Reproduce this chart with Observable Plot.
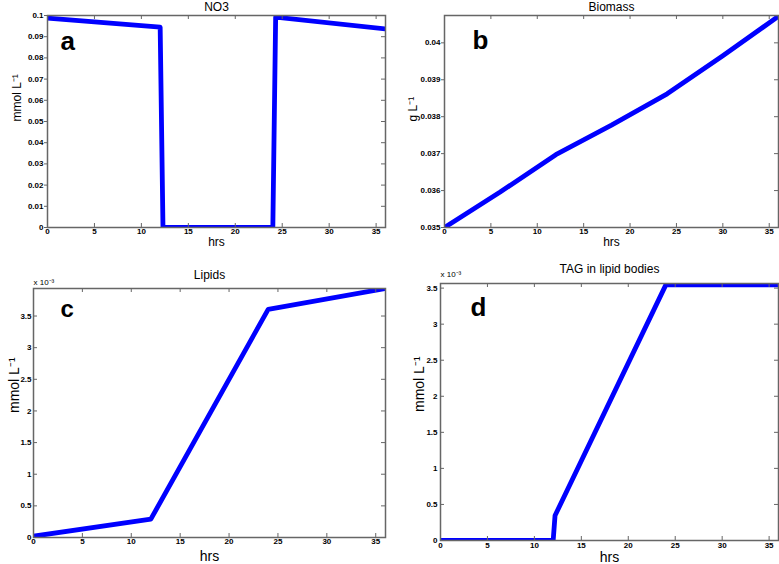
<!DOCTYPE html>
<html>
<head>
<meta charset="utf-8">
<script src="https://cdn.jsdelivr.net/npm/d3@7"></script>
<script src="https://cdn.jsdelivr.net/npm/@observablehq/plot@0.6"></script>
<style>
  html, body { margin: 0; padding: 0; background: white; }
  #root { position: relative; width: 779px; height: 564px; overflow: hidden; background: white; }
  #root > div { position: absolute; }
  svg { overflow: visible; }
</style>
</head>
<body>
<div id="root"></div>
<script>
// ---- data ----
const xTicks = [0, 5, 10, 15, 20, 25, 30, 35];

const no3Hours = [0, 12, 12.3, 24, 24.3, 36];
const no3Values = [0.0988, 0.0945, 0, 0, 0.0992, 0.0937];
const no3Ticks = [0, 0.01, 0.02, 0.03, 0.04, 0.05, 0.06, 0.07, 0.08, 0.09, 0.1];

const biomassHours = [0, 6, 12, 18, 24, 30, 36];
const biomassValues = [0.035, 0.03596, 0.03697, 0.03777, 0.03862, 0.03965, 0.04072];
const biomassTicks = [0.035, 0.036, 0.037, 0.038, 0.039, 0.04];

const lipidHours = [0, 12, 24, 36];
const lipidValues = [0.00002, 0.00029, 0.003606, 0.003935];
const lipidTicks = [0, 0.0005, 0.001, 0.0015, 0.002, 0.0025, 0.003, 0.0035];

const tagHours = [0, 12, 12.2, 24, 36];
const tagValues = [0, 0, 0.000346, 0.003545, 0.003545];
const tagTicks = [0, 0.0005, 0.001, 0.0015, 0.002, 0.0025, 0.003, 0.0035];

const FONT = '"Liberation Sans", Arial, Helvetica, sans-serif';
const FRAME = "#666";

function panel(o) {
  const fw = o.width - o.ml - o.mr;
  const fh = o.height - o.mt - o.mb;
  const data = o.xs.map((d, i) => ({hrs: d, v: o.ys[i]}));
  const marks = [
    Plot.line(data, {x: "hrs", y: "v", stroke: "#0000ff", strokeWidth: 4.8, clip: true}),
    Plot.frame({stroke: FRAME, strokeWidth: 1.5}),
    Plot.tickX(xTicks, {x: d => d, insetTop: fh - 4, stroke: FRAME, strokeWidth: 1}),
    Plot.tickX(xTicks, {x: d => d, insetBottom: fh - 4, stroke: FRAME, strokeWidth: 1}),
    Plot.tickY(o.yTicks, {y: d => d, insetLeft: fw - 4, stroke: FRAME, strokeWidth: 1}),
    Plot.axisX({ticks: xTicks, tickSize: 0, tickPadding: o.xPad, fontSize: 8, fontWeight: "bold", fill: "black", label: null, tickFormat: d => String(d)}),
    Plot.axisY({ticks: o.yTicks, tickSize: o.outerLeft ? 3 : 0, tickPadding: o.yPad, stroke: FRAME, fontSize: 8, fontWeight: "bold", fill: "black", label: null, tickFormat: o.yFmt}),
    Plot.text([o.title], {text: d => d, frameAnchor: "top", dy: o.titleDy, fontSize: 12, lineAnchor: "middle"}),
    Plot.text([o.letter], {text: d => d, frameAnchor: "top-left", dx: o.letterDx, dy: o.letterDy, fontSize: o.letterSize, fontWeight: "bold", textAnchor: "start", lineAnchor: "top"}),
    Plot.text([o.ylabel], {text: d => d, frameAnchor: "left", rotate: -90, dx: o.ylabelDx, fontSize: o.labelSize, lineAnchor: "middle"}),
    Plot.text(["hrs"], {text: d => d, frameAnchor: "bottom", dy: o.xlabelDy, fontSize: o.labelSize, lineAnchor: "middle"})
  ];
  if (!o.outerLeft) {
    marks.push(Plot.tickY(o.yTicks, {y: d => d, insetRight: fw - 4, stroke: FRAME, strokeWidth: 1}));
  }
  if (o.exponent) {
    marks.push(Plot.text([o.exponent], {text: d => d, frameAnchor: "top-left", dx: o.expDx, dy: o.expDy, fontSize: 8, textAnchor: "start", lineAnchor: "middle"}));
  }
  const chart = Plot.plot({
    width: o.width, height: o.height,
    marginLeft: o.ml, marginRight: o.mr, marginTop: o.mt, marginBottom: o.mb,
    style: {fontFamily: FONT, fontSize: "8px", color: "black", background: "transparent", overflow: "visible"},
    x: {domain: [0, 36]},
    y: {domain: o.yDomain},
    marks
  });
  const wrap = document.createElement("div");
  wrap.style.left = o.left + "px";
  wrap.style.top = o.top + "px";
  wrap.appendChild(chart);
  document.getElementById("root").appendChild(wrap);
}

const fmt2 = d => String(+d.toFixed(2));
const fmt3 = d => String(+d.toFixed(3));
const fmtE3 = d => String(+(d * 1000).toFixed(1));

panel({left: 0, top: 0, width: 390, height: 260, ml: 47, mr: 5, mt: 15, mb: 33,
  xs: no3Hours, ys: no3Values, yDomain: [0, 0.1], yTicks: no3Ticks, yFmt: fmt2,
  title: "NO3", titleDy: -8, letter: "a", letterDx: 13, letterDy: 16, letterSize: 26,
  ylabel: "mmol L⁻¹", ylabelDx: -30, labelSize: 12, xlabelDy: 15,
  xPad: 1, yPad: 1, outerLeft: true});

panel({left: 390, top: 0, width: 389, height: 260, ml: 54, mr: 1, mt: 15, mb: 33,
  xs: biomassHours, ys: biomassValues, yDomain: [0.035, 0.04074], yTicks: biomassTicks, yFmt: fmt3,
  title: "Biomass", titleDy: -8, letter: "b", letterDx: 28, letterDy: 15, letterSize: 26,
  ylabel: "g L⁻¹", ylabelDx: -31, labelSize: 12, xlabelDy: 15,
  xPad: 1, yPad: 1, outerLeft: true});

panel({left: 0, top: 270, width: 390, height: 294, ml: 33, mr: 5, mt: 18, mb: 27,
  xs: lipidHours, ys: lipidValues, yDomain: [0, 0.003935], yTicks: lipidTicks, yFmt: fmtE3,
  title: "Lipids", titleDy: -13, letter: "c", letterDx: 27, letterDy: 11, letterSize: 24,
  ylabel: "mmol L⁻¹", ylabelDx: -19, labelSize: 14, xlabelDy: 19,
  xPad: 1, yPad: 2, outerLeft: false, exponent: "x 10⁻³", expDx: 0, expDy: -6});

panel({left: 390, top: 270, width: 389, height: 294, ml: 50, mr: 1, mt: 13, mb: 24,
  xs: tagHours, ys: tagValues, yDomain: [0, 0.003564], yTicks: tagTicks, yFmt: fmtE3,
  title: "TAG in lipid bodies", titleDy: -14, letter: "d", letterDx: 30, letterDy: 14, letterSize: 26,
  ylabel: "mmol L⁻¹", ylabelDx: -21, labelSize: 14, xlabelDy: 17,
  xPad: 2, yPad: 3, outerLeft: false, exponent: "x 10⁻³", expDx: 0, expDy: -9});
</script>
</body>
</html>
